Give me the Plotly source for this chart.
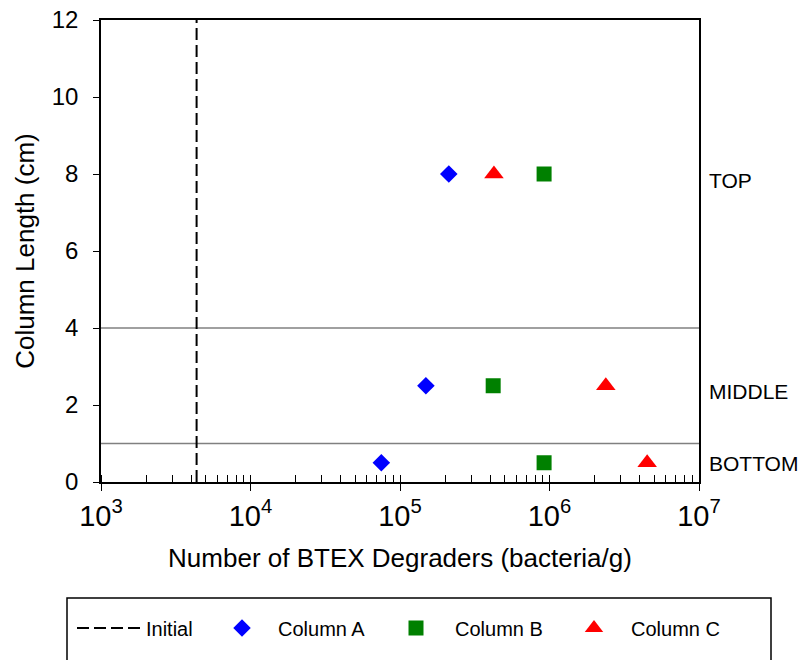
import plotly.graph_objects as go

depth = [8, 2.5, 0.5]
col_a = [2.12e5, 1.49e5, 7.5e4]
col_b = [9.2e5, 4.2e5, 9.2e5]
col_c = [4.25e5, 2.38e6, 4.5e6]
initial = 4.36e3
section_labels = ["TOP", "MIDDLE", "BOTTOM"]
section_label_y = [7.82, 2.36, 0.49]
boundaries = [4, 1]
y_range = [0, 12]

FONT = "Liberation Sans, Arial, sans-serif"
L, R, T, B = 101, 699, 20, 482
PW, PH = R - L, B - T


def px_x(p):
    return (p - L) / PW


def px_y(p):
    return (B - p) / PH


fig = go.Figure()
fig.add_trace(go.Scatter(x=[initial, initial], y=y_range, mode="lines", name="Initial",
                         line=dict(color="black", width=2, dash="12px,5px"), legend="legend"))
fig.add_trace(go.Scatter(x=col_a, y=depth, mode="markers", name="Column A",
                         marker=dict(symbol="diamond", size=13.5, color="#0000FF"), legend="legend2"))
fig.add_trace(go.Scatter(x=col_b, y=depth, mode="markers", name="Column B",
                         marker=dict(symbol="square", size=15, color="#008000"), legend="legend3"))
fig.add_trace(go.Scatter(x=col_c, y=depth, mode="markers", name="Column C",
                         marker=dict(symbol="triangle-up", size=17, color="#FF0000"), legend="legend4"))

for b in boundaries:
    fig.add_shape(type="line", xref="paper", x0=0, x1=1, yref="y", y0=b, y1=b,
                  line=dict(color="#808080", width=1.5), layer="below")

for lab, yy in zip(section_labels, section_label_y):
    fig.add_annotation(text=lab, xref="paper", x=px_x(707), xanchor="left", yref="y", y=yy,
                       showarrow=False, font=dict(size=21, color="black", family=FONT))

# legend frame
fig.add_shape(type="rect", xref="paper", yref="paper",
              x0=px_x(67), x1=px_x(771), y0=px_y(668), y1=px_y(598),
              line=dict(color="black", width=1.5), fillcolor="rgba(0,0,0,0)")

leg_common = dict(orientation="h", xanchor="left", yanchor="middle", y=px_y(628),
                  font=dict(size=20, family=FONT, color="black"),
                  bgcolor="rgba(0,0,0,0)", borderwidth=0)

fig.update_layout(
    width=802, height=660,
    margin=dict(l=L, r=802 - R, t=T, b=660 - B, autoexpand=False),
    paper_bgcolor="white", plot_bgcolor="white",
    font=dict(family=FONT, color="black"),
    showlegend=True,
    legend=dict(x=px_x(72), itemwidth=64, **leg_common),
    legend2=dict(x=px_x(206), itemwidth=62, **leg_common),
    legend3=dict(x=px_x(377), itemwidth=68, **leg_common),
    legend4=dict(x=px_x(557), itemwidth=64, **leg_common),
)
fig.update_xaxes(type="log", range=[3, 7], showgrid=False, zeroline=False,
                 showline=True, linecolor="black", linewidth=1.5, mirror=True,
                 ticks="outside", ticklen=7, tickcolor="black",
                 tickvals=[1e3, 1e4, 1e5, 1e6, 1e7],
                 ticktext=["10<sup>3</sup>", "10<sup>4</sup>", "10<sup>5</sup>", "10<sup>6</sup>", "10<sup>7</sup>"],
                 tickfont=dict(size=29, family=FONT),
                 minor=dict(ticks="inside", ticklen=7, tickcolor="black", dtick="D1", showgrid=False),
                 title=dict(text="Number of BTEX Degraders (bacteria/g)", font=dict(size=26, family=FONT), standoff=18))
fig.update_yaxes(range=y_range, dtick=2, showgrid=False, zeroline=False,
                 showline=True, linecolor="black", linewidth=1.5, mirror=True,
                 ticks="outside", ticklen=6, tickcolor="black", ticklabelstandoff=10,
                 tickfont=dict(size=24, family=FONT),
                 title=dict(text="Column Length (cm)", font=dict(size=26, family=FONT), standoff=10))

fig.write_html("out.html")
